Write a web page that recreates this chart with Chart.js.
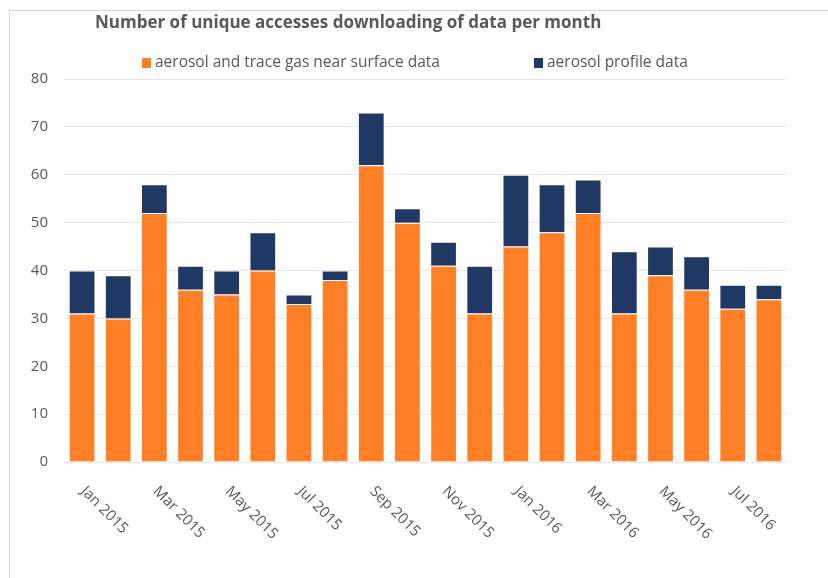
<!DOCTYPE html>
<html>
<head>
<meta charset="utf-8">
<script src="https://cdn.jsdelivr.net/npm/chart.js@4.4.0/dist/chart.umd.min.js"></script>
<style>
  body { margin: 0; background: #fff; }
  #wrap { width: 828px; height: 578px; position: relative; }
</style>
</head>
<body>
<div id="wrap"><canvas id="barChart" width="828" height="578"></canvas></div>
<script>
  // data
  var months = ["Jan 2015", "Feb 2015", "Mar 2015", "Apr 2015", "May 2015", "Jun 2015", "Jul 2015", "Aug 2015",
    "Sep 2015", "Oct 2015", "Nov 2015", "Dec 2015", "Jan 2016", "Feb 2016", "Mar 2016", "Apr 2016",
    "May 2016", "Jun 2016", "Jul 2016", "Aug 2016"];
  var nearSurface = [31, 30, 52, 36, 35, 40, 33, 38, 62, 50, 41, 31, 45, 48, 52, 31, 39, 36, 32, 34];
  var profile = [9, 9, 6, 5, 5, 8, 2, 2, 11, 3, 5, 10, 15, 10, 7, 13, 6, 7, 5, 3];
  var yTicks = [0, 10, 20, 30, 40, 50, 60, 70, 80];
  var seriesNames = ["aerosol and trace gas near surface data", "aerosol profile data"];
  var chartTitle = "Number of unique accesses downloading of data per month";

  var FONT = "'Open Sans', sans-serif";
  var GREY = '#595959';
  var ORANGE = '#FF7F27';
  var NAVY = '#203864';

  // title, legend, frame, slanted month labels
  var decor = {
    id: 'decor',
    beforeDraw: function (chart) {
      var c = chart.ctx;
      c.save();
      c.strokeStyle = '#D9D9D9';
      c.lineWidth = 1;
      c.beginPath();
      c.moveTo(9.5, 578);
      c.lineTo(9.5, 10.5);
      c.lineTo(828, 10.5);
      c.stroke();
      c.restore();
    },
    afterDraw: function (chart) {
      var c = chart.ctx;
      c.save();
      c.fillStyle = GREY;
      c.font = "bold 17px " + FONT;
      c.textBaseline = 'middle';
      c.textAlign = 'left';
      c.fillText(chartTitle, 95, 23);

      // legend
      c.font = "15.5px " + FONT;
      var lx = [142, 534];
      var cols = [ORANGE, NAVY];
      for (var k = 0; k < 2; k++) {
        c.fillStyle = cols[k];
        c.fillRect(lx[k], 58, 9, 10);
        c.fillStyle = GREY;
        c.fillText(seriesNames[k], lx[k] + 13, 63);
      }

      // month labels, every other one
      var xs = chart.scales.x;
      var yb = chart.chartArea.bottom;
      c.font = "15px " + FONT;
      c.fillStyle = GREY;
      c.textAlign = 'left';
      c.textBaseline = 'middle';
      for (var i = 0; i < months.length; i += 2) {
        var x = xs.getPixelForValue(i);
        c.save();
        c.translate(x + 1, yb + 27);
        c.rotate(Math.PI / 4);
        c.fillText(months[i], 0, 0);
        c.restore();
      }
      c.restore();
    }
  };

  var ctx = document.getElementById("barChart").getContext('2d');
  var myBarChart = new Chart(ctx, {
    type: 'bar',
    data: {
      labels: months,
      datasets: [{
          label: seriesNames[0],
          data: nearSurface,
          backgroundColor: ORANGE,
          borderColor: 'rgba(255,255,255,0.25)',
          borderWidth: 1,
          categoryPercentage: 1,
          barPercentage: 0.74
        },
        {
          label: seriesNames[1],
          data: profile,
          backgroundColor: NAVY,
          borderColor: 'rgba(255,255,255,0.25)',
          borderWidth: 1,
          categoryPercentage: 1,
          barPercentage: 0.74
        }
      ]
    },
    options: {
      responsive: false,
      animation: false,
      layout: { padding: { top: 79, right: 41, left: 0, bottom: 0 } },
      plugins: {
        legend: { display: false },
        title: { display: false },
        tooltip: { enabled: false }
      },
      scales: {
        x: {
          stacked: true,
          grid: { display: false },
          border: { display: false },
          ticks: { display: false },
          afterFit: function (s) { s.height = 116; }
        },
        y: {
          stacked: true,
          min: 0,
          max: 80,
          afterBuildTicks: function (s) { s.ticks = yTicks.map(function (v) { return { value: v }; }); },
          afterFit: function (s) { s.width = 64; },
          grid: { color: '#E6E6E6', drawTicks: false },
          border: { display: false },
          ticks: {
            color: GREY,
            padding: 16,
            font: { family: FONT, size: 15 }
          }
        }
      }
    },
    plugins: [decor]
  });
</script>
</body>
</html>
